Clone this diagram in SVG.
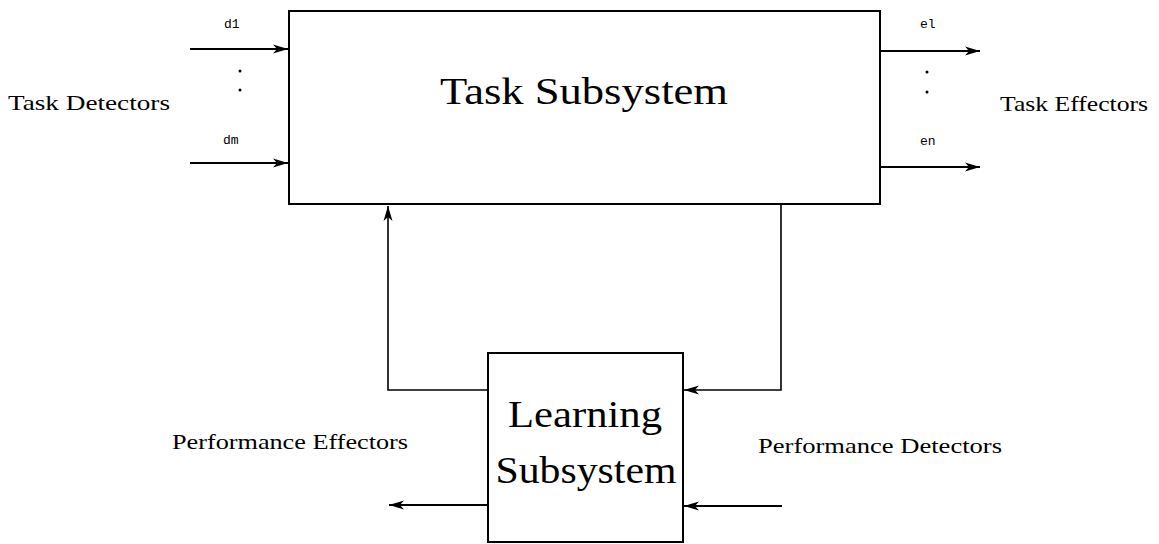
<svg xmlns="http://www.w3.org/2000/svg" width="1159" height="544" viewBox="0 0 1159 544">
<style>
.box{fill:#fff;stroke:#000;stroke-width:2}
.ln{fill:none;stroke:#000;stroke-width:2.2}
.thin{fill:none;stroke:#000;stroke-width:1.6}
.t{font-family:"Liberation Serif",serif;fill:#000}
.big{font-size:38px}
.lab{font-size:21px}
.sm{font-size:13px;font-family:"Liberation Mono",monospace}
</style>
<defs>
<marker id="ah" markerWidth="16" markerHeight="10" refX="15" refY="5" orient="auto" markerUnits="userSpaceOnUse">
<path d="M0,0.5 L15,5 L0,9.5 L4,5 Z" fill="#000"/>
</marker>
</defs>
<g id="task-subsystem">
<rect class="box" x="289" y="11" width="591" height="193"/>
<text class="t big" x="584" y="104" text-anchor="middle" textLength="288" lengthAdjust="spacingAndGlyphs">Task Subsystem</text>
</g>
<g id="learning-subsystem">
<rect class="box" x="488" y="353" width="195" height="189"/>
<text class="t big" x="585" y="427" text-anchor="middle" textLength="154" lengthAdjust="spacingAndGlyphs">Learning</text>
<text class="t big" x="586" y="483" text-anchor="middle" textLength="181" lengthAdjust="spacingAndGlyphs">Subsystem</text>
</g>
<g id="task-detectors">
<text class="t lab" x="8" y="110" textLength="162" lengthAdjust="spacingAndGlyphs">Task Detectors</text>
<text class="t sm" x="224" y="28">d1</text>
<text class="t sm" x="223" y="144">dm</text>
<circle cx="240" cy="71" r="1.5"/>
<circle cx="240" cy="90" r="1.5"/>
</g>
<g id="task-effectors">
<text class="t lab" x="1000" y="111" textLength="148" lengthAdjust="spacingAndGlyphs">Task Effectors</text>
<text class="t sm" x="920" y="28">el</text>
<text class="t sm" x="920" y="145">en</text>
<circle cx="927" cy="72" r="1.5"/>
<circle cx="927" cy="92" r="1.5"/>
</g>
<g id="performance-effectors">
<text class="t lab" x="172" y="449" textLength="236" lengthAdjust="spacingAndGlyphs">Performance Effectors</text>
</g>
<g id="performance-detectors">
<text class="t lab" x="758" y="453" textLength="244" lengthAdjust="spacingAndGlyphs">Performance Detectors</text>
</g>
<g id="connectors">
<line class="ln" x1="190" y1="49" x2="288" y2="49" marker-end="url(#ah)"/>
<line class="ln" x1="190" y1="163" x2="288" y2="163" marker-end="url(#ah)"/>
<line class="ln" x1="881" y1="51" x2="980" y2="51" marker-end="url(#ah)"/>
<line class="ln" x1="881" y1="167" x2="980" y2="167" marker-end="url(#ah)"/>
<polyline class="thin" points="488,390 388,390 388,206" marker-end="url(#ah)"/>
<polyline class="thin" points="781,205 781,390 684,390" marker-end="url(#ah)"/>
<line class="ln" x1="487" y1="505" x2="389" y2="505" marker-end="url(#ah)"/>
<line class="ln" x1="782" y1="506" x2="684" y2="506" marker-end="url(#ah)"/>
</g>
</svg>
